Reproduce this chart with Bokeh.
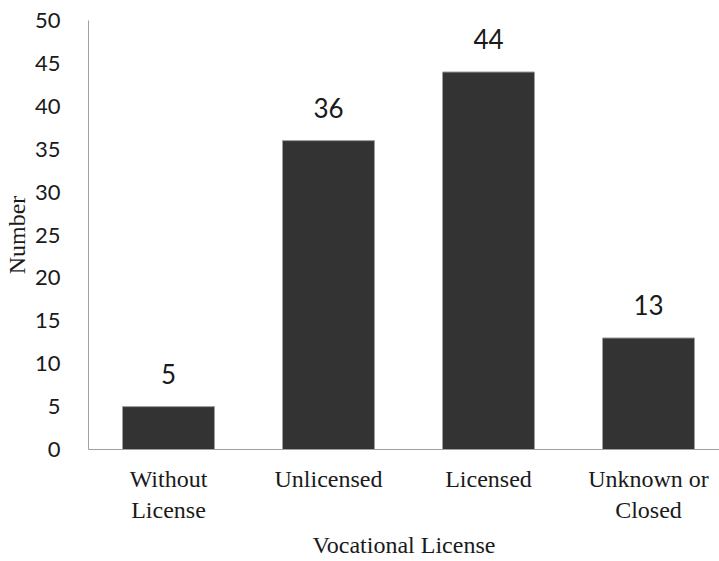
from bokeh.plotting import figure
from bokeh.models import ColumnDataSource, Range1d, FixedTicker
from bokeh.core.properties import value
from bokeh.embed import file_html
from bokeh.resources import INLINE

categories = ["Without\nLicense", "Unlicensed", "Licensed", "Unknown or\nClosed"]
counts = [5, 36, 44, 13]
y_ticks = [0, 5, 10, 15, 20, 25, 30, 35, 40, 45, 50]
x_title = "Vocational License"
y_title = "Number"

xpos = [i + 0.5 for i in range(len(categories))]
src = ColumnDataSource(dict(x=xpos, top=counts, lab=[str(c) for c in counts]))

W, H = 719, 561
LEFT, BOTTOM, TOP = 88, 112, 20
px_per_cat = 160
x_end = (W - LEFT) / px_per_cat

p = figure(width=W, height=H, output_backend="svg", toolbar_location=None,
           x_range=Range1d(0, x_end), y_range=Range1d(0, 50),
           min_border_left=LEFT, min_border_right=0, min_border_top=TOP,
           min_border_bottom=BOTTOM)
p.outline_line_color = None
p.xgrid.grid_line_color = None
p.ygrid.grid_line_color = None
p.background_fill_color = "white"
p.border_fill_color = "white"

p.vbar(x="x", top="top", width=0.575, bottom=0, source=src,
       fill_color="#333333", line_color="#a0a0a0", line_width=1)
p.text(x="x", y="top", text="lab", source=src, text_align="center",
       text_baseline="alphabetic", y_offset=-33,
       text_font=value("Lato"), text_font_size="26px", text_color="#1a1a1a")

ax = p.xaxis[0]
ax.ticker = FixedTicker(ticks=xpos)
ax.major_label_overrides = {x: c for x, c in zip(xpos, categories)}
ax.major_tick_line_color = None
ax.minor_tick_line_color = None
ax.axis_line_color = "#a0a0a0"
ax.major_label_text_font = "Liberation Serif"
ax.major_label_text_font_size = "24px"
ax.major_label_text_color = "#1a1a1a"
ax.major_label_standoff = 10
ax.axis_label = x_title
ax.axis_label_text_font = "Liberation Serif"
ax.axis_label_text_font_size = "24px"
ax.axis_label_text_font_style = "normal"
ax.axis_label_text_color = "#1a1a1a"
ax.axis_label_standoff = 6

ay = p.yaxis[0]
ay.ticker = FixedTicker(ticks=y_ticks)
ay.major_tick_line_color = None
ay.minor_tick_line_color = None
ay.axis_line_color = "#a0a0a0"
ay.major_label_text_font = "Lato"
ay.major_label_text_font_size = "22px"
ay.major_label_text_color = "#1a1a1a"
ay.major_label_standoff = 22
ay.axis_label = y_title
ay.axis_label_text_font = "Liberation Serif"
ay.axis_label_text_font_size = "24px"
ay.axis_label_text_font_style = "normal"
ay.axis_label_text_color = "#1a1a1a"
ay.axis_label_standoff = 2

open("out.html", "w").write(file_html(p, INLINE))
